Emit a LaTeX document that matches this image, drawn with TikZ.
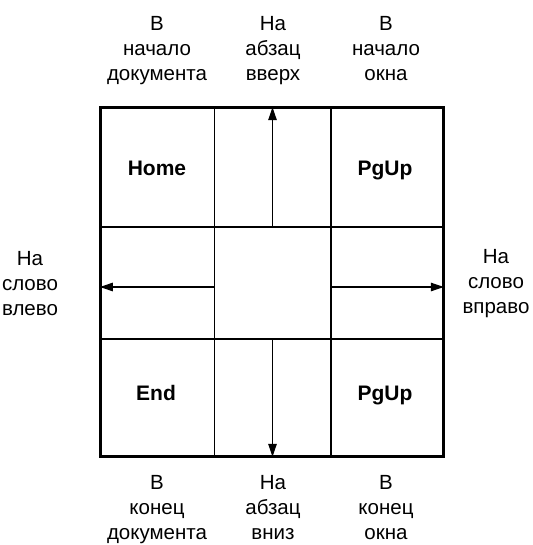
\documentclass[tikz,border=0pt]{standalone}
\usepackage{fontspec}
\setmainfont{Liberation Sans}
\usetikzlibrary{arrows.meta}
\begin{document}
\begin{tikzpicture}[x=1pt,y=-1pt,
  cell/.style={draw, line width=1.6pt, inner sep=0pt, minimum width=#1},
  key/.style={font=\fontsize{21}{21}\selectfont\bfseries, anchor=base},
  lbl/.style={align=center, font=\fontsize{20.5}{25}\selectfont},
  arr/.style={line width=1.2pt, -{Triangle[length=13pt,width=8.5pt]}}]
\useasboundingbox (0,0) rectangle (532,545);
% columns: 100.7, 214.3, 330.7, 443 ; rows: 108, 227, 339, 456
\node[cell=113.6pt, minimum height=119pt] (tl) at (157.5,167.5) {};
\node[cell=116.4pt, minimum height=119pt] (tc) at (272.5,167.5) {};
\node[cell=112.3pt, minimum height=119pt] (tr) at (386.85,167.5) {};
\node[cell=113.6pt, minimum height=112pt] (ml) at (157.5,283) {};
\node[cell=116.4pt, minimum height=112pt] (mc) at (272.5,283) {};
\node[cell=112.3pt, minimum height=112pt] (mr) at (386.85,283) {};
\node[cell=113.6pt, minimum height=117pt] (bl) at (157.5,397.5) {};
\node[cell=116.4pt, minimum height=117pt] (bc) at (272.5,397.5) {};
\node[cell=112.3pt, minimum height=117pt] (br) at (386.85,397.5) {};
\draw[line width=2.2pt] (tl.north west) rectangle (br.south east);
% key labels
\node[key] (home) at (157,176) {Home};
\node[key] (pgup1) at (385,176) {PgUp};
\node[key] (end) at (156,400) {End};
\node[key] (pgup2) at (385,400) {PgUp};
% arrows
\draw[arr] (mc.north) -- (tc.north);
\draw[arr] (mc.south) -- (bc.south);
\draw[arr] (mc.west |- 0,287) -- (ml.west |- 0,287);
\draw[arr] (mc.east |- 0,287) -- (mr.east |- 0,287);
% top labels
\node[lbl, anchor=north] (t1) at (157,13) {В\\начало\\документа};
\node[lbl, anchor=north] (t2) at (273,13) {На\\абзац\\вверх};
\node[lbl, anchor=north] (t3) at (386,13) {В\\начало\\окна};
% bottom labels
\node[lbl, anchor=north] (b1) at (157,472) {В\\конец\\документа};
\node[lbl, anchor=north] (b2) at (273,472) {На\\абзац\\вниз};
\node[lbl, anchor=north] (b3) at (386,472) {В\\конец\\окна};
% side labels
\node[lbl] (s1) at (30,284) {На\\слово\\влево};
\node[lbl] (s2) at (496,284) {На\\слово\\вправо};
\end{tikzpicture}
\end{document}
